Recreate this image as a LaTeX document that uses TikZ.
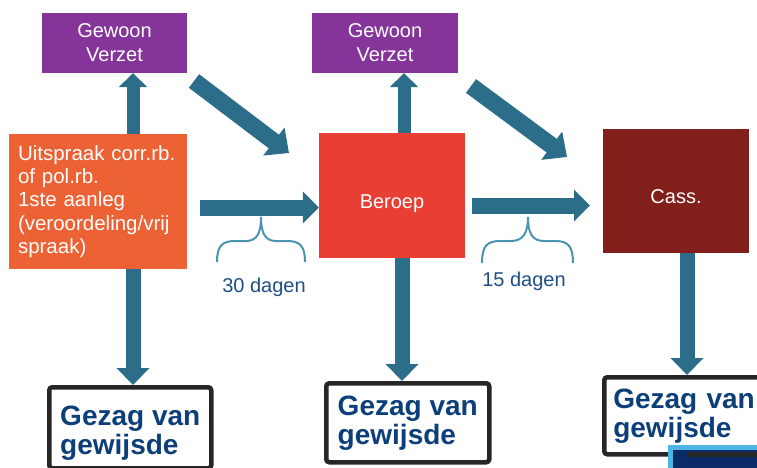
\documentclass[tikz,border=0pt]{standalone}
\usepackage{fontspec}
\setmainfont{Liberation Sans}
\usetikzlibrary{arrows.meta}
\definecolor{vpurple}{HTML}{85359A}
\definecolor{vorange}{HTML}{EC6234}
\definecolor{vred}{HTML}{E93E33}
\definecolor{vdark}{HTML}{831F1A}
\definecolor{vteal}{HTML}{2C6D89}
\definecolor{vbrace}{HTML}{4A94B2}
\definecolor{vnavy}{HTML}{0C3F7A}
\definecolor{vdagen}{HTML}{1D4F86}
\definecolor{vborder}{HTML}{262626}
\definecolor{vlblue}{HTML}{4DB4E6}
\definecolor{vdeep}{HTML}{0A2B66}
\tikzset{
  colbox/.style={rectangle, inner sep=0pt, text=white, align=center,
    font=\fontsize{20pt}{24pt}\selectfont},
  gezag/.style={rectangle, draw=vborder, line width=4.5pt, rounded corners=3pt,
    fill=white, inner xsep=10.5pt, inner ysep=0pt, align=left, anchor=north west,
    text=vnavy, font=\fontsize{28pt}{29pt}\selectfont\bfseries},
  upar/.style={draw=vteal, line width=13pt, -{Triangle[width=28pt,length=14pt]}},
  downar/.style={draw=vteal, line width=15pt, -{Triangle[width=32pt,length=17pt]}},
  horar/.style={draw=vteal, line width=16pt, -{Triangle[width=31pt,length=16pt]}},
  diagar/.style={draw=vteal, line width=17pt, -{Triangle[width=34pt,length=19pt]}},
  bracepath/.style={draw=vbrace, line width=2pt},
  dagen/.style={text=vdagen, font=\fontsize{20pt}{24pt}\selectfont}
}
\begin{document}
\begin{tikzpicture}[x=1pt,y=-1pt]
\useasboundingbox (0,0) rectangle (757,467);
\clip (0,0) rectangle (757,467);

% coloured boxes
\node[colbox, fill=vpurple, minimum width=145pt, minimum height=60pt] (v1) at (114.5,43) {Gewoon\\Verzet};
\node[colbox, fill=vpurple, minimum width=146pt, minimum height=60pt] (v2) at (385,43) {Gewoon\\Verzet};
\node[colbox, fill=vorange, minimum width=178pt, minimum height=135pt, align=left,
      text width=160pt, inner xsep=9pt, font=\fontsize{20.5pt}{23.2pt}\selectfont] (u) at (98,201.5)
  {Uitspraak corr.rb.\\of pol.rb.\\1ste aanleg\\(veroordeling/vrij\\spraak)};
\node[colbox, fill=vred, minimum width=146pt, minimum height=125pt, text height=25pt, text depth=0pt] (beroep) at (392,195.5) {Beroep};
\node[colbox, fill=vdark, minimum width=146pt, minimum height=124pt, text height=24pt, text depth=0pt] (cass) at (676,191) {Cass.};

% Gezag van gewijsde boxes
\node[gezag, minimum width=162pt, minimum height=81pt] (g1) at (47,385) {\rule{0pt}{30pt}Gezag van\\gewijsde};
\node[gezag, minimum width=163pt, minimum height=79pt] (g2) at (324,381) {Gezag van\\gewijsde};
\node[gezag, minimum width=168pt, minimum height=77pt, text width=150pt, inner xsep=9pt] (g3) at (602,375) {Gezag van\\gewijsde};

% partial element bottom right (over the box, under its bottom border)
\fill[vlblue] (668,445) rectangle (770,480);
\fill[vdeep] (673,450) rectangle (770,480);
\draw[vborder, line width=4.5pt] ([yshift=2.25pt]g3.south) -- ([yshift=2.25pt,xshift=20pt]g3.south east);

% helper coordinates
\coordinate (ax1) at (133,0);
\coordinate (ax2) at (404,0);
\coordinate (ax3) at (402,0);
\coordinate (ax4) at (687,0);
\coordinate (h1s) at (200,207.5);
\coordinate (h2s) at (472,205.5);
\coordinate (h2e) at (590,205.5);
\coordinate (d1s) at (194,81);
\coordinate (d1e) at (289,153);
\coordinate (d2s) at (471,86);
\coordinate (d2e) at (567,157);

% arrows
\draw[upar] (u.north -| ax1) -- (v1.south -| ax1);
\draw[upar] (beroep.north -| ax2) -- (v2.south -| ax2);
\draw[downar] (u.south -| ax1) -- (g1.north -| ax1);
\draw[downar] (beroep.south -| ax3) -- (g2.north -| ax3);
\draw[downar] (cass.south -| ax4) -- (g3.north -| ax4);
\draw[horar] (h1s) -- (beroep.west |- h1s);
\draw[horar] (h2s) -- (h2e);
\draw[diagar] (d1s) -- (d1e);
\draw[diagar] (d2s) -- (d2e);

% braces
\draw[bracepath] (217,262) .. controls (217,246) and (222,241) .. (235,241) -- (246,241)
  .. controls (257,241) and (261,233) .. (261,217)
  .. controls (261,233) and (265,241) .. (276,241) -- (287,241)
  .. controls (300,241) and (305,246) .. (305,262);
\draw[bracepath] (482,263) .. controls (482,246) and (487,241) .. (500,241) -- (511,241)
  .. controls (523,241) and (528,233) .. (528,217)
  .. controls (528,233) and (532,241) .. (544,241) -- (555,241)
  .. controls (568,241) and (573,246) .. (573,263);

\node[dagen] (t30) at (264,287.5) {30 dagen};
\node[dagen] (t15) at (524,281.5) {15 dagen};
\end{tikzpicture}
\end{document}
